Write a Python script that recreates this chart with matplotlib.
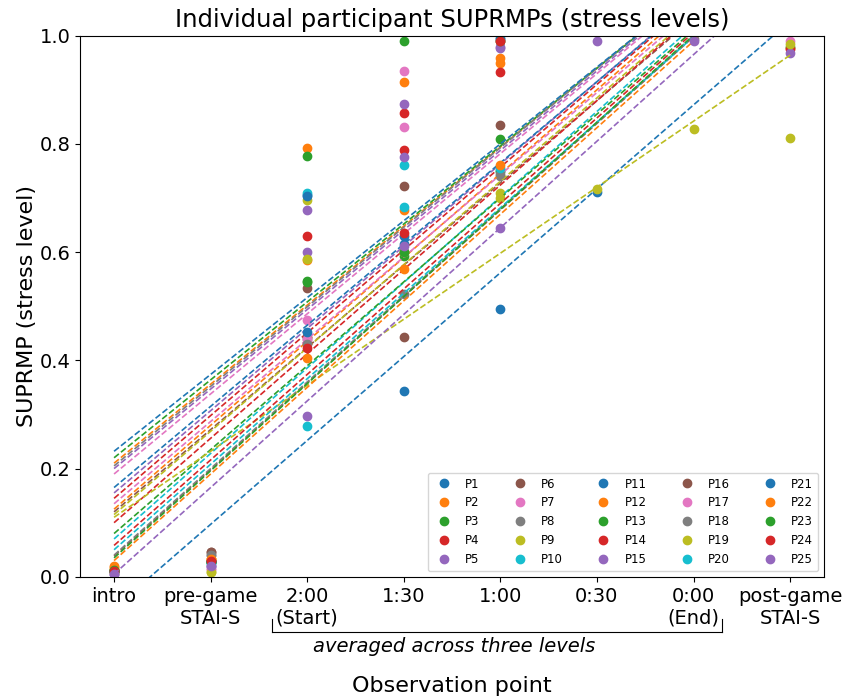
import numpy as np
import matplotlib
matplotlib.use('Agg')
import matplotlib.pyplot as plt

nan = np.nan

participants = ['P%d' % i for i in range(1, 26)]
tick_labels = ['intro', 'pre-game\nSTAI-S', '2:00\n(Start)', '1:30', '1:00',
               '0:30', '0:00\n(End)', 'post-game\nSTAI-S']

# SUPRMP per observation point, one value per participant (P1..P25), nan = off the chart
intro = [0.010, 0.020, 0.012, 0.010, 0.005, 0.010, 0.010, 0.010, 0.008, 0.010,
         0.010, 0.018, 0.012, 0.010, 0.005, 0.010, 0.010, 0.010, 0.008, 0.010,
         0.010, 0.015, 0.012, 0.010, 0.005]
pre_game = [0.030, 0.033, 0.027, 0.030, 0.020, 0.045, 0.015, 0.040, 0.008, 0.025,
            0.030, 0.033, 0.027, 0.030, 0.020, 0.045, 0.015, 0.040, 0.008, 0.025,
            0.030, 0.033, 0.027, 0.030, 0.020]
t_200 = [0.706, 0.792, 0.777, 0.630, 0.677, 0.533, 0.475, 0.440, 0.696, 0.710,
         0.704, 0.585, 0.546, 0.433, 0.600, 0.444, 0.440, 0.430, 0.588, 0.279,
         0.452, 0.405, 0.545, 0.422, 0.298]
t_130 = [0.344, 0.915, 0.991, 0.857, 0.874, 0.723, 0.934, 0.523, 0.600, 0.761,
         0.630, 0.677, 0.593, 0.788, 0.776, 0.444, 0.832, 0.600, 0.600, 0.684,
         0.615, 0.569, 0.600, 0.636, 0.612]
t_100 = [0.494, 0.959, 0.809, 0.991, 0.977, 0.835, nan, 0.741, 0.709, 0.750,
         0.996, 0.950, 0.750, 0.932, 0.980, nan, nan, 0.745, 0.700, 0.755,
         0.993, 0.761, 0.990, 0.990, 0.645]
t_030 = [0.712, nan, nan, nan, 0.990, nan, nan, nan, nan, nan,
         nan, nan, nan, nan, nan, nan, nan, nan, 0.717, nan,
         nan, nan, nan, nan, nan]
t_000 = [nan, nan, nan, nan, nan, nan, nan, 0.993, nan, nan,
         nan, nan, nan, nan, nan, nan, nan, nan, 0.828, nan,
         nan, nan, nan, nan, 0.991]
post_game = [nan, 0.978, 0.980, 0.975, 0.968, nan, 0.990, nan, 0.985, nan,
             nan, nan, nan, nan, nan, nan, nan, nan, 0.811, nan,
             nan, nan, nan, nan, nan]

# linear trend per participant
intercepts = [-0.058, 0.210, 0.220, 0.145, 0.200, 0.120, 0.190, 0.205, 0.115, 0.070,
              0.232, 0.125, 0.080, 0.100, 0.155, 0.038, 0.135, 0.040, 0.110, 0.050,
              0.165, 0.030, 0.035, 0.058, 0.005]
slopes = [0.155, 0.146, 0.144, 0.153, 0.147, 0.152, 0.148, 0.147, 0.154, 0.158,
          0.142, 0.155, 0.155, 0.156, 0.152, 0.160, 0.152, 0.160, 0.122, 0.158,
          0.150, 0.160, 0.161, 0.158, 0.160]

values = np.array([intro, pre_game, t_200, t_130, t_100, t_030, t_000, post_game]).T
x = np.arange(len(tick_labels))
colors = plt.rcParams['axes.prop_cycle'].by_key()['color']

fig, ax = plt.subplots(figsize=(8.45, 7), dpi=100)
fig.subplots_adjust(left=0.095, right=0.975, top=0.949, bottom=0.176)

xs = np.array([0, 7])
for i, p in enumerate(participants):
    c = colors[i % 10]
    ax.plot(x, values[i], 'o', color=c, ms=6, label=p)
    ax.plot(xs, intercepts[i] + slopes[i] * xs, '--', color=c, lw=1.2)

ax.set_ylim(0, 1)
ax.set_xlim(-0.35, 7.35)
ax.set_xticks(x)
ax.set_xticklabels(tick_labels, fontsize=14)
ax.tick_params(axis='y', labelsize=14)
ax.set_ylabel('SUPRMP (stress level)', fontsize=16, labelpad=2)
ax.set_xlabel('Observation point', fontsize=16, labelpad=35)
ax.set_title('Individual participant SUPRMPs (stress levels)', fontsize=17.5)

# bracket under the in-game points
yb = -0.102
ax.plot([1.64, 6.30], [yb, yb], color='k', lw=0.8, clip_on=False)
ax.plot([1.64, 1.64], [-0.078, yb], color='k', lw=0.8, clip_on=False)
ax.plot([6.30, 6.30], [-0.078, yb], color='k', lw=0.8, clip_on=False)
ax.text(3.52, -0.128, 'averaged across three levels', style='italic',
        ha='center', va='center', fontsize=14)

ax.legend(ncol=5, loc='lower right', fontsize=8.5, columnspacing=2.4)

plt.savefig('out.png')
